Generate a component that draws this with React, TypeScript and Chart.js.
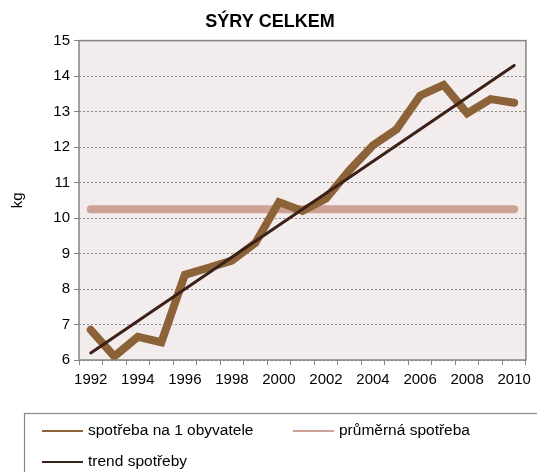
import React, { useEffect, useRef } from "react";
import { Chart, registerables } from "chart.js";

Chart.register(...registerables);

const years = ["1992","1993","1994","1995","1996","1997","1998","1999","2000","2001","2002","2003","2004","2005","2006","2007","2008","2009","2010"];
const perCapita = [6.85, 6.1, 6.65, 6.5, 8.4, 8.6, 8.8, 9.3, 10.45, 10.2, 10.55, 11.35, 12.05, 12.5, 13.45, 13.75, 12.95, 13.35, 13.25];
const averageEnds = [10.25, 10.25];
const trendEnds = [6.2, 14.3];
const yTicks = [6, 7, 8, 9, 10, 11, 12, 13, 14, 15];

const FONT = "'Liberation Sans', Arial, sans-serif";
const C_MAIN = "#8c6239";
const C_AVG = "#cda195";
const C_TREND = "#3b2117";

function ends(vals: number[]) {
  const arr: (number | null)[] = years.map(() => null);
  arr[0] = vals[0];
  arr[years.length - 1] = vals[1];
  return arr;
}

const plotBox = {
  id: "plotBox",
  beforeDraw(chart: any) {
    const { ctx, chartArea: a } = chart;
    ctx.save();
    ctx.fillStyle = "#f2ecec";
    ctx.fillRect(a.left, a.top, a.right - a.left, a.bottom - a.top);
    ctx.restore();
  },
  afterDraw(chart: any) {
    const { ctx, chartArea: a } = chart;
    ctx.save();
    ctx.strokeStyle = "#858585";
    ctx.lineWidth = 1.5;
    ctx.strokeRect(a.left, a.top, a.right - a.left, a.bottom - a.top);
    // legend
    const top = a.bottom + 53;
    ctx.strokeStyle = "#888888";
    ctx.lineWidth = 1.2;
    ctx.strokeRect(24.5, top + 0.5, 600, 100);
    const ds = chart.data.datasets;
    const items = [
      { x: 42, y: top + 18, ds: ds[0] },
      { x: 293, y: top + 18, ds: ds[1] },
      { x: 42, y: top + 49, ds: ds[2] },
    ];
    ctx.font = "15.5px " + FONT;
    ctx.textBaseline = "middle";
    ctx.fillStyle = "#000";
    for (const it of items) {
      ctx.strokeStyle = it.ds.borderColor;
      ctx.lineWidth = 2;
      ctx.beginPath();
      ctx.moveTo(it.x, it.y);
      ctx.lineTo(it.x + 41, it.y);
      ctx.stroke();
      ctx.fillText(it.ds.label, it.x + 46, it.y);
    }
    ctx.restore();
  },
};

export default function App() {
  const ref = useRef<HTMLCanvasElement>(null);
  useEffect(() => {
    document.body.style.margin = "0";
    const chart = new Chart(ref.current!, {
      type: "line",
      data: {
        labels: years,
        datasets: [
          {
            label: "spotřeba na 1 obyvatele",
            data: perCapita,
            borderColor: C_MAIN,
            borderWidth: 8,
            pointRadius: 0,
            borderCapStyle: "round",
            borderJoinStyle: "miter",
            tension: 0,
            order: 1,
          },
          {
            label: "průměrná spotřeba",
            data: ends(averageEnds),
            borderColor: C_AVG,
            borderWidth: 8,
            pointRadius: 0,
            spanGaps: true,
            borderCapStyle: "round",
            order: 2,
          },
          {
            label: "trend spotřeby",
            data: ends(trendEnds),
            borderColor: C_TREND,
            borderWidth: 3,
            pointRadius: 0,
            spanGaps: true,
            borderCapStyle: "round",
            order: 0,
          },
        ],
      },
      options: {
        responsive: false,
        animation: false,
        layout: { padding: { top: 0, right: 6, bottom: 72, left: 9 } },
        plugins: {
          legend: { display: false },
          tooltip: { enabled: false },
          title: {
            display: true,
            text: "SÝRY CELKEM",
            color: "#000",
            font: { family: FONT, size: 18, weight: "bold" },
            padding: { top: 11, bottom: 8 },
          },
        },
        scales: {
          x: {
            type: "category",
            offset: true,
            afterFit(s: any) { s.height = 40; },
            grid: { display: true, drawOnChartArea: false, drawTicks: true, tickLength: 5, color: "#858585", offset: true },
            border: { display: false },
            ticks: {
              color: "#000",
              font: { family: FONT, size: 15 },
              autoSkip: false,
              maxRotation: 0,
              padding: 6,
              callback: (_v: any, i: number) => (i % 2 === 0 ? years[i] : ""),
            },
          },
          y: {
            min: yTicks[0],
            max: yTicks[yTicks.length - 1],
            afterFit(s: any) { s.width = 70; },
            afterBuildTicks(s: any) { s.ticks = yTicks.map((v) => ({ value: v })); },
            grid: { color: "#8a8a8a", tickLength: 5, lineWidth: 1, tickColor: "#858585" },
            border: { display: false, dash: [2, 2] },
            ticks: { color: "#000", font: { family: FONT, size: 15 }, padding: 4 },
            title: { display: true, text: "kg", color: "#000", font: { family: FONT, size: 15 }, padding: 0 },
          },
        },
      },
      plugins: [plotBox],
    });
    return () => chart.destroy();
  }, []);
  return <canvas ref={ref} width={537} height={472} style={{ display: "block" }} />;
}
